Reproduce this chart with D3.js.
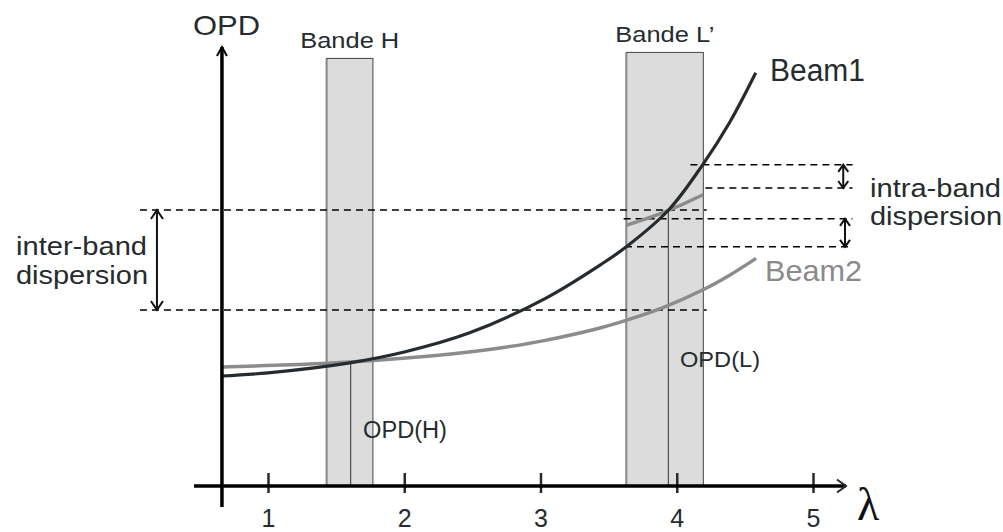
<!DOCTYPE html>
<html>
<head>
<meta charset="utf-8">
<script src="https://cdn.jsdelivr.net/npm/d3@7"></script>
<style>
  html, body { margin: 0; padding: 0; background: #fff; }
  svg { display: block; }
</style>
</head>
<body>
<svg id="chart" width="1003" height="532"></svg>
<script>
// Optical path difference (arbitrary units) versus wavelength for two beams.
const lambdaTicks = [1, 2, 3, 4, 5];
const tickLabels = ["1", "2", "3", "4", "5"];

const beam1Lambda = [0.66, 1.0, 1.6, 2.0, 2.48, 3.03, 3.44, 3.63, 3.94, 4.19, 4.39, 4.58];
const beam1OPD    = [2.75, 2.83, 3.08, 3.35, 3.83, 4.68, 5.53, 5.98, 6.90, 8.03, 9.10, 10.33];

const beam2Lambda = [0.662, 1.235, 1.602, 2.013, 2.409, 2.703, 3.026, 3.437, 3.627, 3.899, 4.193, 4.391, 4.582];
const beam2OPD    = [2.975, 3.04, 3.10, 3.20, 3.325, 3.45, 3.635, 3.95, 4.14, 4.46, 4.905, 5.275, 5.69];

// Spectral bands
const bandNames     = ["Bande H", "Bande L’"];
const bandStart     = [1.43, 3.63];
const bandEnd       = [1.77, 4.195];
const bandTop       = [10.69, 10.84];
const bandRef       = [1.607, 3.938];
const bandRefLabels = ["OPD(H)", "OPD(L)"];

// Dashed reference levels (OPD) and their wavelength extent
const dashOPD  = [6.90, 4.40, 8.03, 7.45, 6.68, 5.98];
const dashFrom = [0.06, 0.06, 4.10, 4.21, 3.61, 3.62];
const dashTo   = [4.22, 4.22, 5.29, 5.29, 5.29, 5.29];

// Double-headed dispersion arrows
const arrowLambda = [0.185, 5.222, 5.235];
const arrowLow    = [4.40, 7.45, 5.98];
const arrowHigh   = [6.90, 8.03, 6.68];

const ink = "#252b2e";
const grey = "#8c8c8c";
const sans = "'Liberation Sans', Arial, sans-serif";

const svg = d3.select("#chart");
const x = d3.scaleLinear().domain([1, 5]).range([268, 813]);
const y = d3.scaleLinear().domain([0, 11]).range([486, 46]);

const line = d3.line()
  .x(d => x(d[0]))
  .y(d => y(d[1]))
  .curve(d3.curveCatmullRom.alpha(0.5));

const beam1 = beam1Lambda.map((l, i) => [l, beam1OPD[i]]);
const beam2 = beam2Lambda.map((l, i) => [l, beam2OPD[i]]);

// linear lookup on a sampled curve
function at(ls, vs, l) {
  const i = Math.max(1, d3.bisectLeft(ls, l));
  const t = (l - ls[i - 1]) / (ls[i] - ls[i - 1]);
  return vs[i - 1] + t * (vs[i] - vs[i - 1]);
}

// Bands
bandNames.forEach((name, i) => {
  const x0 = x(bandStart[i]), x1 = x(bandEnd[i]);
  svg.append("rect")
    .attr("x", x0).attr("y", y(bandTop[i]))
    .attr("width", x1 - x0).attr("height", y(0) - y(bandTop[i]))
    .attr("fill", "#dcdcdc").attr("stroke", "#444").attr("stroke-width", 1);
  svg.append("line")
    .attr("x1", x0).attr("x2", x0).attr("y1", y(bandTop[i]) + 0.5).attr("y2", y(0))
    .attr("stroke", "#8a8a8a").attr("stroke-width", 2);
  svg.append("text")
    .attr("x", (x0 + x1) / 2).attr("y", y(bandTop[i]) - 10)
    .attr("text-anchor", "middle")
    .attr("font-family", sans).attr("font-size", 22).attr("fill", ink)
    .attr("textLength", 99).attr("lengthAdjust", "spacingAndGlyphs")
    .text(name);
  // vertical marker at the reference wavelength of the band
  const ref = bandRef[i];
  const top = Math.max(at(beam1Lambda, beam1OPD, ref), at(beam2Lambda, beam2OPD, ref));
  svg.append("line")
    .attr("x1", x(ref)).attr("x2", x(ref))
    .attr("y1", y(top)).attr("y2", y(0))
    .attr("stroke", "#333").attr("stroke-width", 1);
});

// Dashed levels
dashOPD.forEach((v, i) => {
  svg.append("line")
    .attr("x1", x(dashFrom[i])).attr("x2", x(dashTo[i]))
    .attr("y1", y(v)).attr("y2", y(v))
    .attr("stroke", "#000").attr("stroke-width", 1.6)
    .attr("stroke-dasharray", "7,5");
});

// Beam2 shifted to meet Beam1 at OPD(L), shown within band L only
const shift = at(beam1Lambda, beam1OPD, bandRef[1]) - at(beam2Lambda, beam2OPD, bandRef[1]);
svg.append("clipPath").attr("id", "bandL")
  .append("rect")
  .attr("x", x(bandStart[1])).attr("y", 0)
  .attr("width", x(bandEnd[1]) - x(bandStart[1])).attr("height", 532);
svg.append("path")
  .attr("d", line(beam2.map(d => [d[0], d[1] + shift])))
  .attr("clip-path", "url(#bandL)")
  .attr("fill", "none").attr("stroke", grey).attr("stroke-width", 3.5);

// Curves
svg.append("path").attr("d", line(beam2))
  .attr("fill", "none").attr("stroke", grey).attr("stroke-width", 3.5);
svg.append("path").attr("d", line(beam1))
  .attr("fill", "none").attr("stroke", ink).attr("stroke-width", 3.2);

// Dispersion arrows
arrowLambda.forEach((l, i) => {
  const ax = x(l), ya = y(arrowHigh[i]), yb = y(arrowLow[i]);
  const w = i === 0 ? 6 : 5, h = i === 0 ? 9 : 7;
  svg.append("path")
    .attr("d", `M${ax},${ya}V${yb}M${ax - w},${ya + h}L${ax},${ya}L${ax + w},${ya + h}` +
               `M${ax - w},${yb - h}L${ax},${yb}L${ax + w},${yb - h}`)
    .attr("fill", "none").attr("stroke", "#111").attr("stroke-width", 2);
});

// Axes
const axisG = svg.append("g").attr("transform", `translate(0,${y(0)})`)
  .call(d3.axisBottom(x).tickValues(lambdaTicks).tickFormat((d, i) => tickLabels[i]));
axisG.select(".domain").remove();
axisG.selectAll(".tick line")
  .attr("y1", -13).attr("y2", 7)
  .attr("stroke", ink).attr("stroke-width", 2.5);
axisG.selectAll(".tick text")
  .attr("y", 40.5).attr("dy", null)
  .attr("font-family", sans).attr("font-size", 25).attr("fill", ink);

const xEnd = x(5.242), yTop = y(10.975);
svg.append("path")
  .attr("d", `M${x(0.457)},${y(0)}H${xEnd}`)
  .attr("stroke", "#000").attr("stroke-width", 3.5);
svg.append("path")
  .attr("d", `M${xEnd - 9},${y(0) - 6.5}L${xEnd},${y(0)}L${xEnd - 9},${y(0) + 6.5}`)
  .attr("fill", "none").attr("stroke", ink).attr("stroke-width", 2);
svg.append("path")
  .attr("d", `M${x(0.662)},${y(-0.525)}V${yTop}`)
  .attr("stroke", "#000").attr("stroke-width", 3.5);
svg.append("path")
  .attr("d", `M${x(0.662) - 5},${yTop + 9}L${x(0.662)},${yTop}L${x(0.662) + 5},${yTop + 9}`)
  .attr("fill", "none").attr("stroke", "#000").attr("stroke-width", 2);

// Text labels
function label(t, px, py, size, len, fill) {
  svg.append("text")
    .attr("x", px).attr("y", py)
    .attr("font-family", sans).attr("font-size", size).attr("fill", fill || ink)
    .attr("textLength", len).attr("lengthAdjust", "spacingAndGlyphs")
    .text(t);
}
label("OPD", 193, 35, 28, 67);
label("Beam1", 770, 81, 31, 95);
label("Beam2", 765, 280.5, 29, 97, "#8a8a8a");
label("intra-band", 870, 196.5, 25.5, 131);
label("dispersion", 870, 225, 25.5, 132);
label("inter-band", 16, 255, 26, 131);
label("dispersion", 16, 284, 26, 132);
label(bandRefLabels[0], 363, 438, 23, 84);
label(bandRefLabels[1], 680, 367, 22, 80);

svg.append("text")
  .attr("x", 857).attr("y", 520)
  .attr("font-family", "'Liberation Serif', 'Times New Roman', serif")
  .attr("font-size", 46).attr("fill", "#111")
  .text("λ");
</script>
</body>
</html>
